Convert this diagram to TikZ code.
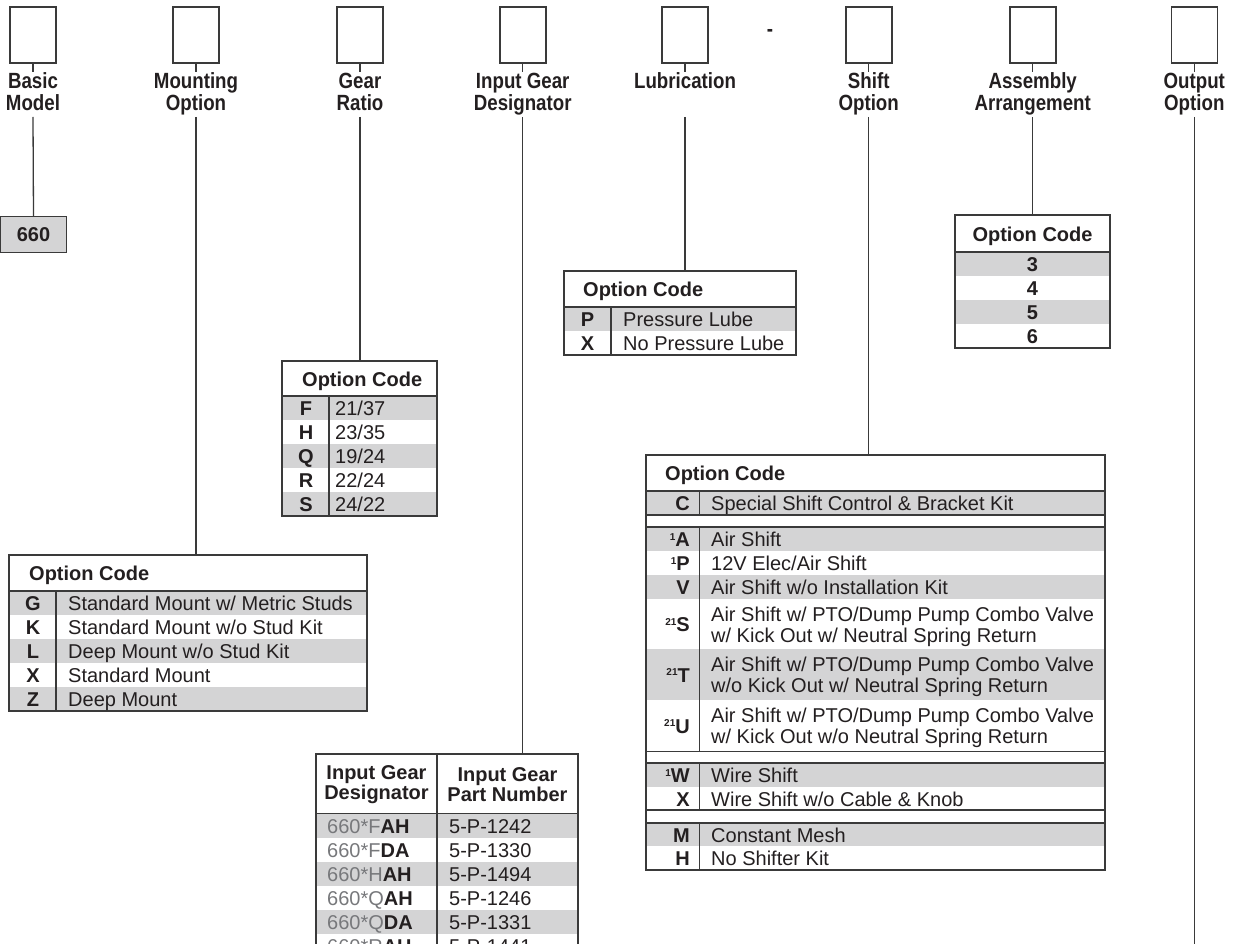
\documentclass[tikz,border=0pt]{standalone}
\usepackage{fontspec}
\setmainfont{Liberation Sans}
\newfontfamily\condf[FakeStretch=0.85]{Liberation Sans}
\definecolor{ln}{HTML}{3A3A3A}
\definecolor{fillg}{HTML}{D4D4D5}
\definecolor{txt}{HTML}{231F20}
\definecolor{gtxt}{HTML}{77787B}
\newcommand\tf{\fontsize{20}{21}\selectfont}
\newcommand\lf{\condf\fontsize{22}{22}\selectfont\bfseries}
\newcommand\sps[1]{{\fontsize{10}{10}\selectfont\raisebox{6.5pt}{#1}}}
\begin{document}
\begin{tikzpicture}[x=1pt,y=-1pt,
 conn/.style={draw=ln,line width=1.3pt},
 topbox/.style={draw=ln,line width=1.6pt,minimum width=46pt,minimum height=56pt,inner sep=0pt},
 lbl/.style={font=\lf,align=center,inner sep=0pt,anchor=north,text=txt},
 tx/.style={font=\tf,inner sep=0pt,text=txt},
 bx/.style={font=\tf\bfseries,inner sep=0pt,text=txt},
 frame/.style={draw=ln,line width=1.4pt},
]
\useasboundingbox (0,0) rectangle (1234,944);
\clip (0,0) rectangle (1234,944);

% ---------- top boxes and labels ----------
\foreach \n/\x in {1/33,2/196,3/360,4/522.7,5/685,6/868.7,7/1032.7,8/1194.3}{
  \node[topbox] (b\n) at (\x,35) {};
  \coordinate (t\n) at (\x,72);
  \draw[conn] (b\n.south) -- (t\n);
}
\node[lbl] (l1) at (33,72.5) {Basic\\Model};
\node[lbl] (l2) at (196,72.5) {Mounting\\Option};
\node[lbl] (l3) at (360,72.5) {Gear\\Ratio};
\node[lbl] (l4) at (522.7,72.5) {Input Gear\\Designator};
\node[lbl] (l5) at (685,72.5) {Lubrication};
\node[lbl] (l6) at (868.7,72.5) {Shift\\Option};
\node[lbl] (l7) at (1032.7,72.5) {Assembly\\Arrangement};
\node[lbl] (l8) at (1194.3,72.5) {Output\\Option};
\node[font=\lf,text=txt,inner sep=0pt] (dash) at (770,33) {-};

\foreach \n/\x in {1/33,2/196,3/360,4/522.7,5/685,6/868.7,7/1032.7,8/1194.3}{
  \coordinate (s\n) at (\x,117);
}
\coordinate (oend) at (1194.3,950);

% ---------- 660 box ----------
\node[draw=ln,line width=1.4pt,fill=fillg,minimum width=65.5pt,minimum height=36pt,inner sep=0pt,font=\tf\bfseries,text=txt] (m660) at (33.5,234.7) {660};

% ---------- Assembly table ----------
\fill[fillg] (955,252) rectangle (1110,276);
\fill[fillg] (955,300) rectangle (1110,324);
\draw[frame] (955,252) -- (1110,252);
\draw[frame] (955,215) rectangle (1110,348);
\node[bx,anchor=base] (a0) at (1032.5,241) {Option Code};
\node[bx,anchor=base] (a3) at (1032.5,271.5) {3};
\node[bx,anchor=base] (a4) at (1032.5,295.5) {4};
\node[bx,anchor=base] (a5) at (1032.5,319.5) {5};
\node[bx,anchor=base] (a6) at (1032.5,343.5) {6};
\coordinate (atop) at (1032.7,215);

% ---------- Lubrication table ----------
\fill[fillg] (564,307) rectangle (796,331);
\draw[frame] (564,307) -- (796,307);
\draw[frame] (611,307) -- (611,355);
\draw[frame] (564,271) rectangle (796,355);
\node[bx,anchor=base west] (u0) at (583,296) {Option Code};
\node[bx,anchor=base] (u1c) at (587.5,326.5) {P};
\node[tx,anchor=base west] (u1d) at (623,326.5) {Pressure Lube};
\node[bx,anchor=base] (u2c) at (587.5,350.5) {X};
\node[tx,anchor=base west] (u2d) at (623,350.5) {No Pressure Lube};
\coordinate (utop) at (685,271);

% ---------- Gear ratio table ----------
\fill[fillg] (282,396) rectangle (437,420);
\fill[fillg] (282,444) rectangle (437,468);
\fill[fillg] (282,492) rectangle (437,516);
\draw[frame] (282,396) -- (437,396);
\draw[frame] (329,396) -- (329,516);
\draw[frame] (282,361) rectangle (437,516);
\node[bx,anchor=base west] (g0) at (302,386) {Option Code};
\foreach \c/\v/\b [count=\i] in {F/21\slash37/415.5,H/23\slash35/439.5,Q/19\slash24/463.5,R/22\slash24/487.5,S/24\slash22/511.5}{
  \node[bx,anchor=base] (g\i c) at (306,\b) {\c};
  \node[tx,anchor=base west] (g\i d) at (335,\b) {\v};
}
\coordinate (gtop) at (360,361);

% ---------- Mounting table ----------
\fill[fillg] (9,591) rectangle (367,615);
\fill[fillg] (9,639) rectangle (367,663);
\fill[fillg] (9,687) rectangle (367,711);
\draw[frame] (9,591) -- (367,591);
\draw[frame] (56,591) -- (56,711);
\draw[frame] (9,555) rectangle (367,711);
\node[bx,anchor=base west] (n0) at (29,580.5) {Option Code};
\foreach \c/\v/\b [count=\i] in {G/Standard Mount w\slash{} Metric Studs/610.5,K/Standard Mount w\slash o Stud Kit/634.5,L/Deep Mount w\slash o Stud Kit/658.5,X/Standard Mount/682.5,Z/Deep Mount/706.5}{
  \node[bx,anchor=base] (n\i c) at (33,\b) {\c};
  \node[tx,anchor=base west] (n\i d) at (68,\b) {\v};
}
\coordinate (ntop) at (196,555);

% ---------- Shift table ----------
\fill[fillg] (646,491) rectangle (1105,515);
\fill[fillg] (646,527) rectangle (1105,551);
\fill[fillg] (646,575) rectangle (1105,599);
\fill[fillg] (646,649) rectangle (1105,700);
\fill[fillg] (646,763) rectangle (1105,787);
\fill[fillg] (646,823) rectangle (1105,846);
\draw[frame] (646,491) -- (1105,491);
\draw[frame] (646,515) -- (1105,515);
\draw[frame] (646,527) -- (1105,527);
\draw[frame] (646,751.5) -- (1105,751.5);
\draw[frame] (646,763) -- (1105,763);
\draw[frame] (646,810) -- (1105,810);
\draw[frame] (646,823) -- (1105,823);
\draw[frame] (699.5,491) -- (699.5,515);
\draw[frame] (699.5,527) -- (699.5,751.5);
\draw[frame] (699.5,763) -- (699.5,810);
\draw[frame] (699.5,823) -- (699.5,870);
\draw[frame] (646,455) rectangle (1105,870);
\node[bx,anchor=base west] (h0) at (665,480.5) {Option Code};
\node[bx,anchor=base east] (h1c) at (690,510.5) {C};
\node[tx,anchor=base west] (h1d) at (711,510.5) {Special Shift Control \& Bracket Kit};
\node[bx,anchor=base east] (h2c) at (690,546.5) {\sps{1}A};
\node[tx,anchor=base west] (h2d) at (711,546.5) {Air Shift};
\node[bx,anchor=base east] (h3c) at (690,570.5) {\sps{1}P};
\node[tx,anchor=base west] (h3d) at (711,570.5) {12V Elec/Air Shift};
\node[bx,anchor=base east] (h4c) at (690,594.5) {V};
\node[tx,anchor=base west] (h4d) at (711,594.5) {Air Shift w/o Installation Kit};
\node[bx,anchor=base east] (h5c) at (690,631.5) {\sps{21}S};
\node[tx,anchor=base west] (h5d) at (711,621) {Air Shift w/ PTO/Dump Pump Combo Valve};
\node[tx,anchor=base west] (h5e) at (711,642) {w/ Kick Out w/ Neutral Spring Return};
\node[bx,anchor=base east] (h6c) at (690,682) {\sps{21}T};
\node[tx,anchor=base west] (h6d) at (711,671.5) {Air Shift w/ PTO/Dump Pump Combo Valve};
\node[tx,anchor=base west] (h6e) at (711,692.5) {w/o Kick Out w/ Neutral Spring Return};
\node[bx,anchor=base east] (h7c) at (690,733.2) {\sps{21}U};
\node[tx,anchor=base west] (h7d) at (711,722.7) {Air Shift w/ PTO/Dump Pump Combo Valve};
\node[tx,anchor=base west] (h7e) at (711,743.7) {w/ Kick Out w/o Neutral Spring Return};
\node[bx,anchor=base east] (h8c) at (690,782.5) {\sps{1}W};
\node[tx,anchor=base west] (h8d) at (711,782.5) {Wire Shift};
\node[bx,anchor=base east] (h9c) at (690,806) {X};
\node[tx,anchor=base west] (h9d) at (711,806) {Wire Shift w/o Cable \& Knob};
\node[bx,anchor=base east] (h10c) at (690,842) {M};
\node[tx,anchor=base west] (h10d) at (711,842) {Constant Mesh};
\node[bx,anchor=base east] (h11c) at (690,865.5) {H};
\node[tx,anchor=base west] (h11d) at (711,865.5) {No Shifter Kit};
\coordinate (htop) at (868.7,455);

% ---------- Input gear table ----------
\fill[fillg] (316,813.3) rectangle (578,837.6);
\fill[fillg] (316,862) rectangle (578,886);
\fill[fillg] (316,910) rectangle (578,934);
\draw[frame] (316,813.3) -- (578,813.3);
\draw[frame] (437,754) -- (437,960);
\draw[frame] (316,754) rectangle (578,960);
\node[bx,align=center,font=\fontsize{20}{20}\selectfont\bfseries] (i0a) at (376.5,785) {Input Gear\\Designator};
\node[bx,align=center,font=\fontsize{20}{20}\selectfont\bfseries] (i0b) at (507.5,785) {Input Gear\\Part Number};
\foreach \d/\e/\p/\b [count=\i] in {F/AH/1242/833,F/DA/1330/857,H/AH/1494/881.5,Q/AH/1246/905.5,Q/DA/1331/929.5,R/AH/1441/953.5}{
  \node[tx,anchor=base west] (i\i a) at (327,\b) {\textcolor{gtxt}{660*\d}\textbf{\e}};
  \node[tx,anchor=base west] (i\i b) at (449,\b) {5-P-\p};
}
\coordinate (itop) at (522.7,754);

% ---------- connectors ----------
\draw[conn] (s1) -- (m660.north);
\draw[conn] (s2) -- (ntop);
\draw[conn] (s3) -- (gtop);
\draw[conn] (s4) -- (itop);
\draw[conn] (s5) -- (utop);
\draw[conn] (s6) -- (htop);
\draw[conn] (s7) -- (atop);
\draw[conn] (s8) -- (oend);
\end{tikzpicture}
\end{document}
